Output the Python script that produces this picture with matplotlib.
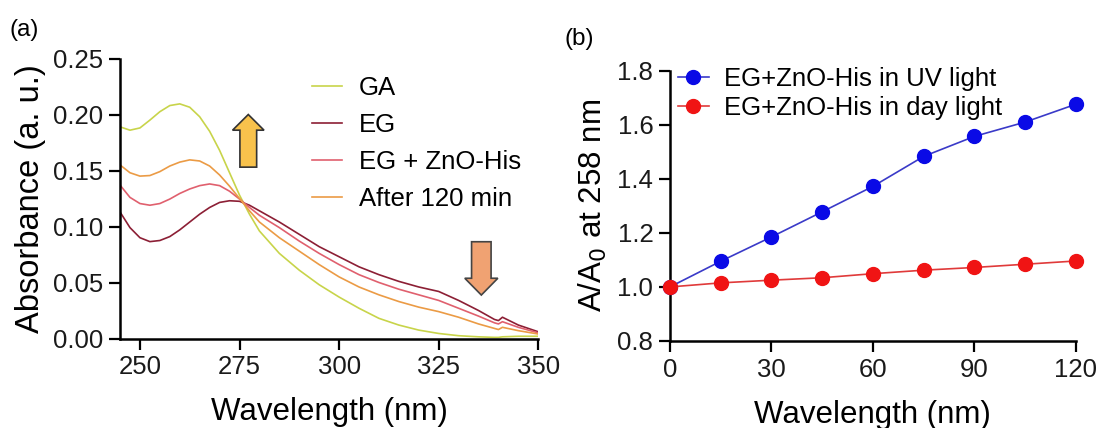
import matplotlib
matplotlib.use("Agg")
import matplotlib.pyplot as plt
from matplotlib.patches import FancyArrow

plt.rcParams['font.family'] = ['Liberation Sans', 'DejaVu Sans']

# ---------------- data: panel (a) ----------------
wavelength = [245, 247.5, 250, 252.5, 255, 257.5, 260, 262.5, 265, 267.5, 270,
              272.5, 275, 277.5, 280, 285, 290, 295, 300, 305, 310, 315, 320,
              325, 330, 335, 339, 340, 341, 345, 350]
ga = [0.189, 0.186, 0.188, 0.195, 0.2025, 0.208, 0.2095, 0.2065, 0.198, 0.185,
      0.168, 0.148, 0.128, 0.111, 0.096, 0.076, 0.061, 0.048, 0.037, 0.027,
      0.018, 0.012, 0.0075, 0.0045, 0.0025, 0.0015, 0.001, 0.001, 0.0015,
      0.002, 0.002]
eg = [0.113, 0.099, 0.090, 0.0865, 0.0875, 0.091, 0.097, 0.104, 0.111, 0.117,
      0.1215, 0.123, 0.1225, 0.119, 0.114, 0.104, 0.093, 0.082, 0.073, 0.064,
      0.057, 0.051, 0.046, 0.042, 0.034, 0.025, 0.017, 0.016, 0.019, 0.012,
      0.006]
eg_zno = [0.137, 0.126, 0.1205, 0.119, 0.1205, 0.1245, 0.1295, 0.1335, 0.1365,
          0.138, 0.1365, 0.1315, 0.1245, 0.117, 0.110, 0.099, 0.087, 0.076,
          0.066, 0.057, 0.050, 0.044, 0.039, 0.034, 0.027, 0.020, 0.014,
          0.013, 0.015, 0.010, 0.005]
after120 = [0.155, 0.148, 0.145, 0.1455, 0.149, 0.154, 0.1575, 0.1595, 0.1585,
            0.154, 0.146, 0.136, 0.125, 0.114, 0.104, 0.090, 0.078, 0.066,
            0.055, 0.046, 0.039, 0.033, 0.028, 0.024, 0.019, 0.013, 0.009,
            0.008, 0.010, 0.007, 0.004]
labels_a = ["GA", "EG", "EG + ZnO-His", "After 120 min"]
colors_a = ["#c8d44a", "#8c1f35", "#e0606e", "#eb9b45"]
xticks_a = [250, 275, 300, 325, 350]
yticks_a = [0.00, 0.05, 0.10, 0.15, 0.20, 0.25]

# ---------------- data: panel (b) ----------------
time_min = [0, 15, 30, 45, 60, 75, 90, 105, 120]
uv = [1.0, 1.095, 1.185, 1.278, 1.372, 1.483, 1.557, 1.610, 1.676]
day = [1.0, 1.015, 1.025, 1.034, 1.049, 1.062, 1.072, 1.084, 1.096]
labels_b = ["EG+ZnO-His in UV light", "EG+ZnO-His in day light"]
xticks_b = [0, 30, 60, 90, 120]
yticks_b = [0.8, 1.0, 1.2, 1.4, 1.6, 1.8]

fig = plt.figure(figsize=(10.99, 4.28), dpi=100)
axa = fig.add_axes([0.1092, 0.2091, 0.3806, 0.6542])
axb = fig.add_axes([0.6096, 0.2033, 0.3694, 0.6315])

TICK_FS = 18.5
LABEL_FS = 22.5


def style(ax):
    for s in ["top", "right"]:
        ax.spines[s].set_visible(False)
    for s in ["left", "bottom"]:
        ax.spines[s].set_linewidth(1.8)
        ax.spines[s].set_color("black")
    ax.tick_params(direction="out", length=8, width=1.6, labelsize=TICK_FS,
                   pad=4, colors="black")
    for lab in ax.get_xticklabels() + ax.get_yticklabels():
        lab.set_color("#1a1a1a")


# panel (a)
for y, lab, c in zip([ga, eg, eg_zno, after120], labels_a, colors_a):
    axa.plot(wavelength, y, color=c, lw=1.2, label=lab)
axa.set_xlim(245, 350)
axa.set_ylim(0, 0.25)
axa.set_xticks(xticks_a)
axa.set_yticks(yticks_a)
axa.set_yticklabels([f"{v:.2f}" for v in yticks_a])
style(axa)
axa.set_xlabel("Wavelength (nm)", fontsize=LABEL_FS, labelpad=13)
axa.set_ylabel("Absorbance (a. u.)", fontsize=23.5, labelpad=5)
axa.legend(loc="upper left", bbox_to_anchor=(0.458, 0.937), frameon=False,
           fontsize=TICK_FS, handlelength=1.2, handletextpad=0.65,
           labelspacing=0.50, borderpad=0, borderaxespad=0)

axa.add_patch(FancyArrow(277.2, 0.153, 0, 0.047, width=4.2, head_width=7.9,
                         head_length=0.014, length_includes_head=True,
                         facecolor="#f8c24c", edgecolor="#333333", lw=1.2))
axa.add_patch(FancyArrow(335.7, 0.0864, 0, -0.0476, width=4.9, head_width=8.3,
                         head_length=0.015, length_includes_head=True,
                         facecolor="#f0a272", edgecolor="#444444", lw=1.2))

# panel (b)
axb.plot(time_min, uv, color="#3a3ac8", lw=1.2, marker="o", ms=10,
         mfc="#0a0ae6", mec="#0a0ae6", label=labels_b[0], clip_on=False, zorder=3)
axb.plot(time_min, day, color="#e03a3a", lw=1.2, marker="o", ms=10,
         mfc="#f01414", mec="#f01414", label=labels_b[1], clip_on=False, zorder=3)
axb.set_xlim(0, 120)
axb.set_ylim(0.8, 1.8)
axb.set_xticks(xticks_b)
axb.set_yticks(yticks_b)
axb.set_yticklabels([f"{v:.1f}" for v in yticks_b])
style(axb)
axb.set_xlabel("Wavelength (nm)", fontsize=LABEL_FS, labelpad=13)
axb.set_ylabel("A/A$_0$ at 258 nm", fontsize=LABEL_FS, labelpad=6)
axb.legend(loc="upper left", bbox_to_anchor=(0.02, 1.015), frameon=False,
           fontsize=TICK_FS, handlelength=1.2, handletextpad=0.6,
           labelspacing=0.2, borderpad=0, borderaxespad=0)

fig.text(0.009, 0.955, "(a)", fontsize=17.5, va="top", ha="left")
fig.text(0.514, 0.935, "(b)", fontsize=17.5, va="top", ha="left")

fig.savefig("out.png", dpi=100)
